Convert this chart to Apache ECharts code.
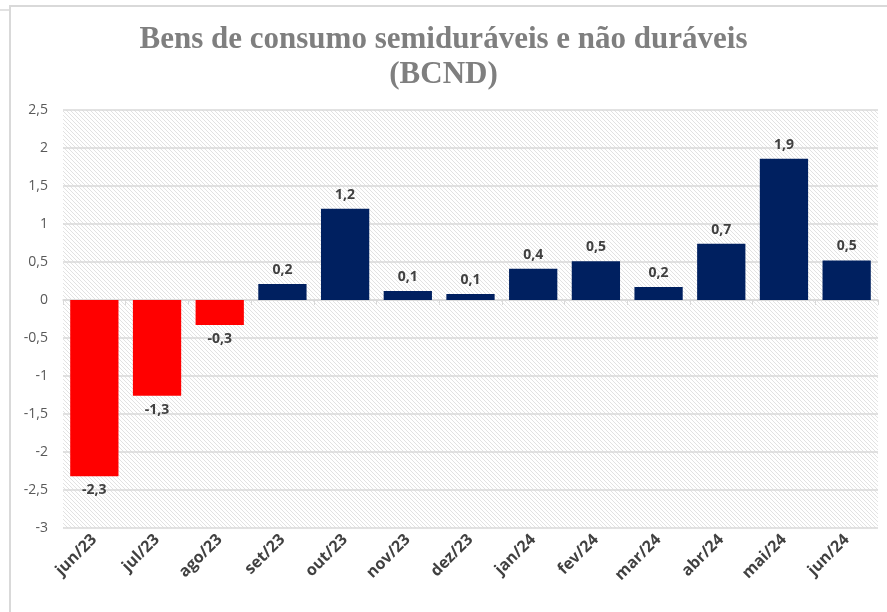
<!DOCTYPE html>
<html><head><meta charset="utf-8">
<script src="https://cdn.jsdelivr.net/npm/echarts@6/dist/echarts.min.js"></script>
<style>html,body{margin:0;padding:0;background:#fff}#c{width:887px;height:612px}</style>
</head><body><div id="c"></div>
<script>
const categories = ['jun/23','jul/23','ago/23','set/23','out/23','nov/23','dez/23','jan/24','fev/24','mar/24','abr/24','mai/24','jun/24'];
const values = [-2.32, -1.26, -0.33, 0.21, 1.2, 0.12, 0.08, 0.41, 0.51, 0.17, 0.74, 1.86, 0.52];
const yTicks = {min: -3, max: 2.5, interval: 0.5};

// hatch pattern
const S = 4;
const pc = document.createElement('canvas');
pc.width = S; pc.height = S;
const px = pc.getContext('2d');
px.fillStyle = '#ffffff'; px.fillRect(0,0,S,S);
px.strokeStyle = '#e2e2e2'; px.lineWidth = 1;
px.beginPath();
px.moveTo(-1,-1); px.lineTo(S+1,S+1);
px.moveTo(-1,S-1); px.lineTo(1,S+1);
px.moveTo(S-1,-1); px.lineTo(S+1,1);
px.stroke();

const chart = echarts.init(document.getElementById('c'));
chart.setOption({
  animation: false,
  backgroundColor: '#fff',
  graphic: [
    {type: 'polyline', shape: {points: [[10, 612], [10, 6], [887, 6]]}, style: {stroke: '#d9d9d9', lineWidth: 2, fill: null}, silent: true},
    {type: 'line', shape: {x1: 0, y1: 10, x2: 10, y2: 10}, style: {stroke: '#d9d9d9', lineWidth: 1.5}, silent: true}
  ],
  title: {
    text: 'Bens de consumo semiduráveis e não duráveis\n(BCND)',
    left: 'center', top: 17,
    textStyle: {fontFamily: 'Liberation Serif', fontWeight: 'bold', fontSize: 31, color: '#7f7f7f', lineHeight: 35}
  },
  grid: {left: 63, right: 9, top: 110, bottom: 84, show: true, borderWidth: 0,
         outerBoundsMode: 'none', containLabel: false,
         backgroundColor: {image: pc, repeat: 'repeat'}},
  xAxis: [{
    type: 'category', data: categories, position: 'bottom',
    axisLine: {show: false, onZero: false},
    axisTick: {show: false},
    axisLabel: {interval: 0, rotate: 45, color: '#404040', fontWeight: 'bold', fontSize: 16,
                fontFamily: 'Open Sans', margin: 9}
  }, {
    type: 'category', data: categories, position: 'bottom',
    axisLine: {show: true, onZero: true, lineStyle: {color: '#d9d9d9', width: 1.5}},
    axisTick: {show: true, length: 5, lineStyle: {color: '#d9d9d9'}},
    axisLabel: {show: false}
  }],
  yAxis: {
    type: 'value', min: yTicks.min, max: yTicks.max, interval: yTicks.interval,
    axisLine: {show: false}, axisTick: {show: false},
    splitLine: {lineStyle: {color: '#d9d9d9', width: 1.5}},
    axisLabel: {color: '#595959', fontSize: 14, fontFamily: 'Open Sans', margin: 15,
                formatter: v => String(v).replace('.', ',')}
  },
  series: [{
    type: 'bar', barCategoryGap: '23%', xAxisIndex: 0,
    data: values.map(v => ({value: v, itemStyle: {color: v < 0 ? '#ff0000' : '#002060'},
      label: {position: v < 0 ? 'bottom' : 'top'}})),
    label: {show: true, fontWeight: 'bold', fontSize: 14, color: '#404040', fontFamily: 'Open Sans',
            distance: 7,
            formatter: p => p.value.toFixed(1).replace('.', ',')}
  }]
});
</script>
</body></html>
